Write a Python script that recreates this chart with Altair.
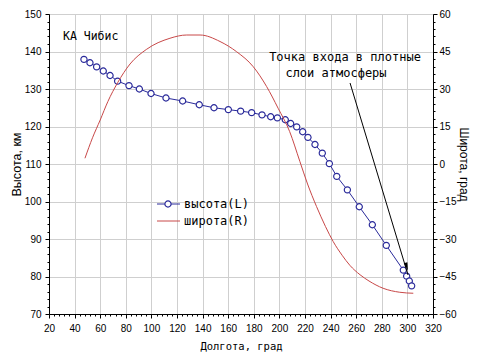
import altair as alt
import pandas as pd

# Altitude series (left axis)
alt_lon = [47.3, 52.0, 57.2, 62.4, 67.7, 73.6, 82.5, 90.6, 99.7, 111.4, 124.4, 137.4,
           148.9, 160.1, 169.7, 178.3, 186.4, 193.2, 198.4, 204.6, 208.8, 213.5, 218.2,
           222.3, 227.8, 233.5, 239.0, 244.8, 253.1, 262.4, 272.6, 283.5, 296.8, 299.4,
           301.5, 303.3]
alt_km = [137.9, 137.0, 135.9, 134.8, 133.6, 132.1, 130.9, 130.0, 128.8, 127.6, 126.8, 125.8,
          125.0, 124.5, 124.1, 123.7, 123.1, 122.6, 122.3, 121.8, 120.8, 119.9, 118.6,
          117.1, 115.2, 112.9, 110.1, 106.7, 103.1, 98.6, 93.8, 88.3, 81.7, 80.1,
          78.8, 77.5]

# Latitude series (right axis)
lat_lon = [48.1, 54.0, 60.0, 66.0, 73.6, 83.3, 96.0, 114.5, 127.6, 138.0, 153.6, 166.6,
           179.6, 190.0, 199.0, 208.0, 216.0, 222.0, 229.0, 236.0, 242.0, 249.0, 255.0,
           263.0, 270.0, 281.0, 294.0, 304.6]
lat_deg = [2.3, 10.5, 17.6, 25.0, 32.5, 40.0, 45.8, 50.3, 51.6, 51.6, 49.0, 44.9,
           38.9, 31.0, 22.3, 13.0, 1.0, -8.0, -17.0, -25.0, -31.0, -36.5, -40.5,
           -44.3, -46.8, -49.7, -51.3, -51.7]

# Annotation arrow (from label to entry point), in data units
arrow_lon = [255.2, 300.5]
arrow_alt = [131.6, 80.4]

title_text = "КА Чибис"
note_lines = ["Точка входа в плотные", "слои атмосферы"]
legend_labels = ["высота(L)", "широта(R)"]

BLUE = "#2a2a9a"
RED = "#c84848"
MONO = "DejaVu Sans Mono"
SANS = "Liberation Sans"

df_alt = pd.DataFrame({"lon": alt_lon, "v": alt_km})
df_lat = pd.DataFrame({"lon": lat_lon, "v": lat_deg})
df_arrow = pd.DataFrame({"lon": [arrow_lon[0]], "v": [arrow_alt[0]],
                         "lon2": [arrow_lon[1]], "v2": [arrow_alt[1]]})
df_head = pd.DataFrame({"lon": [arrow_lon[1] - 1.0], "v": [arrow_alt[1] + 2.2]})

x_axis = alt.Axis(
    title="Долгота, град", values=list(range(20, 321, 4)),
    labelExpr="datum.value % 20 === 0 ? datum.label : ''",
    tickSize={"condition": {"test": "datum.value % 20 === 0", "value": 4}, "value": 2},
    gridOpacity={"condition": {"test": "datum.value % 20 === 0", "value": 1}, "value": 0},
    labelOverlap=False, labelFlush=False, labelPadding=5,
    titleFont=MONO, titleFontSize=10.5, titleFontWeight="normal", titlePadding=8,
)
x_scale = alt.Scale(domain=[20, 320], nice=False, zero=False)

def X():
    return alt.X("lon:Q", scale=x_scale, axis=x_axis)

left_axis = alt.Axis(
    title="Высота, км", values=list(range(70, 151, 2)),
    labelExpr="datum.value % 10 === 0 ? datum.label : ''",
    tickSize={"condition": {"test": "datum.value % 10 === 0", "value": 4}, "value": 2},
    gridOpacity={"condition": {"test": "datum.value % 10 === 0", "value": 1}, "value": 0},
    labelOverlap=False, labelFlush=False, labelPadding=4,
    titleFont=SANS, titleFontSize=12.5, titleFontWeight="normal", titlePadding=1,
)
left_scale = alt.Scale(domain=[70, 150], nice=False, zero=False)

right_axis = alt.Axis(
    title="Широта, град", orient="right", values=list(range(-60, 61, 3)),
    labelExpr="datum.value % 15 === 0 ? datum.label : ''",
    tickSize={"condition": {"test": "datum.value % 15 === 0", "value": 4}, "value": 2},
    grid=False,
    labelOverlap=False, labelFlush=False, labelPadding=2,
    titleFont=SANS, titleFontSize=12, titleFontWeight="normal", titlePadding=1,
)
right_scale = alt.Scale(domain=[-60, 60], nice=False, zero=False)

def YL(field="v"):
    return alt.Y(f"{field}:Q", scale=left_scale, axis=left_axis)

blue_line = alt.Chart(df_alt).mark_line(color=BLUE, strokeWidth=1).encode(x=X(), y=YL())
blue_pts = alt.Chart(df_alt).mark_point(
    shape="circle", filled=True, fill="white", stroke=BLUE, strokeWidth=1.2, size=38, opacity=1
).encode(x=X(), y=YL())

arrow = alt.Chart(df_arrow).mark_rule(color="black", strokeWidth=1).encode(
    x=X(), y=YL(), x2="lon2:Q", y2="v2:Q")
head = alt.Chart(df_head).mark_point(
    shape="M0,-1L0.45,1L-0.45,1Z", filled=True, color="black", size=70, angle=163.2, opacity=1
).encode(x=X(), y=YL())

def label(text, x, y, align="left", size=12, font=MONO):
    return alt.Chart(pd.DataFrame({"t": [text]})).mark_text(
        align=align, baseline="middle", font=font, fontSize=size, color="black"
    ).encode(text="t:N", x=alt.value(x), y=alt.value(y))

t_title = label(title_text, 14, 23, size=11.5)
t_note1 = label(note_lines[0], 296, 43, align="center")
t_note2 = label(note_lines[1], 287, 59, align="center")
t_leg1 = label(legend_labels[0], 135, 190)
t_leg2 = label(legend_labels[1], 135, 207)

leg_df = pd.DataFrame({"k": [0]})
leg_line1 = alt.Chart(leg_df).mark_rule(color=BLUE, strokeWidth=1).encode(
    x=alt.value(108), x2=alt.value(131), y=alt.value(190))
leg_pt1 = alt.Chart(leg_df).mark_point(
    shape="circle", filled=True, fill="white", stroke=BLUE, strokeWidth=1.2, size=38, opacity=1
).encode(x=alt.value(119), y=alt.value(190))
leg_line2 = alt.Chart(leg_df).mark_rule(color=RED, strokeWidth=1).encode(
    x=alt.value(108), x2=alt.value(131), y=alt.value(207))

left_layer = alt.layer(blue_line, blue_pts, arrow, head, t_title, t_note1, t_note2,
                       leg_line1, leg_pt1, leg_line2, t_leg1, t_leg2)

red_line = alt.Chart(df_lat).mark_line(color=RED, strokeWidth=1, interpolate="monotone").encode(
    x=X(), y=alt.Y("v:Q", scale=right_scale, axis=right_axis))

chart = alt.layer(left_layer, red_line).resolve_scale(y="independent").properties(
    width=384, height=300,
    autosize=alt.AutoSizeParams(type="none"),
    padding={"left": 41, "top": 6, "right": 39, "bottom": 38},
    background="white",
).configure_view(stroke="black", strokeWidth=1).configure_axis(
    domainColor="black", tickColor="black", gridColor="#cfcfcf", gridWidth=1,
    labelFont=SANS, labelFontSize=10, labelColor="black", titleColor="black",
)

chart.save("out.html", embed_options={"renderer": "svg", "actions": False})
